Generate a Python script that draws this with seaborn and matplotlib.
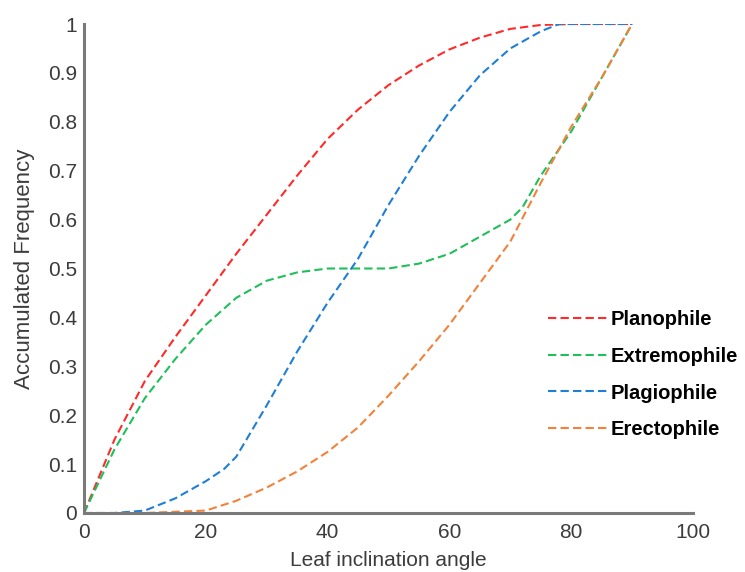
import numpy as np
import pandas as pd
import matplotlib
matplotlib.use("Agg")
import matplotlib.pyplot as plt
import seaborn as sns

angle_plano = [0, 5, 10, 15, 20, 25, 30, 35, 40, 45, 50, 55, 60, 65, 70, 75, 80, 85, 90]
planophile = [0, 0.15, 0.27, 0.36, 0.445, 0.53, 0.61, 0.69, 0.765, 0.825, 0.875, 0.915, 0.948, 0.972, 0.99, 0.998, 1.0, 1.0, 1.0]

angle_extremo = [0, 5, 10, 15, 20, 25, 30, 35, 40, 45, 50, 55, 60, 65, 70, 72, 75, 80, 85, 90]
extremophile = [0, 0.13, 0.235, 0.315, 0.385, 0.44, 0.475, 0.492, 0.5, 0.5, 0.5, 0.51, 0.53, 0.565, 0.6, 0.625, 0.69, 0.78, 0.89, 1.0]

angle_plagio = [0, 5, 10, 15, 20, 23, 25, 30, 35, 40, 45, 50, 55, 60, 65, 70, 75, 78, 80, 85, 90]
plagiophile = [0, 0, 0.005, 0.03, 0.065, 0.09, 0.115, 0.22, 0.33, 0.43, 0.52, 0.63, 0.73, 0.82, 0.895, 0.95, 0.985, 1.0, 1.0, 1.0, 1.0]

angle_erecto = [0, 10, 20, 25, 30, 35, 40, 45, 50, 55, 60, 65, 70, 75, 80, 85, 90]
erectophile = [0, 0, 0.005, 0.025, 0.052, 0.085, 0.125, 0.175, 0.24, 0.31, 0.385, 0.47, 0.555, 0.675, 0.79, 0.89, 1.0]

series_names = ["Planophile", "Extremophile", "Plagiophile", "Erectophile"]
series_colors = ["#ff2a2a", "#1fbf5a", "#1f7fd4", "#f2823a"]

x_ticks = [0, 20, 40, 60, 80, 100]
y_ticks = [0, 0.1, 0.2, 0.3, 0.4, 0.5, 0.6, 0.7, 0.8, 0.9, 1]
y_tick_labels = ["0", "0.1", "0.2", "0.3", "0.4", "0.5", "0.6", "0.7", "0.8", "0.9", "1"]

sns.set_theme(style="white")
plt.rcParams["font.family"] = ["Liberation Sans", "DejaVu Sans"]

fig = plt.figure(figsize=(7.45, 5.72), dpi=100)
ax = fig.add_axes([84 / 745, 1 - 513 / 572, (693 - 84) / 745, (513 - 24) / 572])

data = [(angle_plano, planophile), (angle_extremo, extremophile),
        (angle_plagio, plagiophile), (angle_erecto, erectophile)]
for (xs, ys), name, col in zip(data, series_names, series_colors):
    df = pd.DataFrame({"angle": xs, "freq": ys})
    sns.lineplot(data=df, x="angle", y="freq", ax=ax, color=col, label=name,
                 linewidth=1.5, linestyle="--")
for line in ax.get_lines():
    line.set_dashes((4, 2))

ax.set_xlim(0, 100)
ax.set_ylim(0, 1)
ax.set_xticks(x_ticks)
ax.set_xticklabels([str(t) for t in x_ticks])
ax.set_yticks(y_ticks)
ax.set_yticklabels(y_tick_labels)

txt_col = "#3c3c3c"
ax.set_xlabel("Leaf inclination angle", fontsize=15, color=txt_col, labelpad=7)
ax.set_ylabel("Accumulated Frequency", fontsize=16, color=txt_col, labelpad=9)
ax.tick_params(axis="both", direction="in", length=5, width=1.2, color="#333333",
               labelsize=15, labelcolor=txt_col)
ax.tick_params(axis="x", pad=7)
ax.tick_params(axis="y", pad=5)

for s in ["top", "right"]:
    ax.spines[s].set_visible(False)
for s in ["left", "bottom"]:
    ax.spines[s].set_color("#7a7a7a")
    ax.spines[s].set_linewidth(2.2)

leg = ax.legend(loc="upper left", bbox_to_anchor=(538 / 745, 1 - 300 / 572),
                bbox_transform=fig.transFigure, frameon=False, borderpad=0,
                handlelength=3.0, handletextpad=0.1, labelspacing=0.88,
                prop={"size": 14.5, "weight": "bold"})
for t in leg.get_texts():
    t.set_color("black")
for h in leg.get_lines():
    h.set_dashes((4, 2))

fig.savefig("out.png", dpi=100)
